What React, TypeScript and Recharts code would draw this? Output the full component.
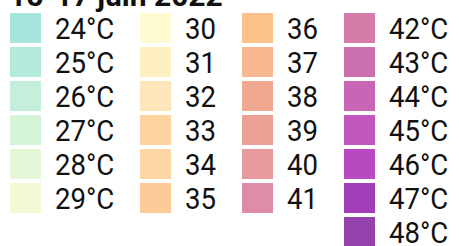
import { ScatterChart, Scatter, XAxis, YAxis } from "recharts";

const title = "15-17 juin 2022";

// legend columns, top to bottom
const col1Labels = ["24°C", "25°C", "26°C", "27°C", "28°C", "29°C"];
const col1Colors = ["#a6e5dd", "#b3eadb", "#c3efdb", "#d4f4d8", "#e4f7d6", "#f2fad5"];
const col2Labels = ["30", "31", "32", "33", "34", "35"];
const col2Colors = ["#fffbd2", "#fff0c4", "#fee6ba", "#fdd3a0", "#fdd6a6", "#fdcb97"];
const col3Labels = ["36", "37", "38", "39", "40", "41"];
const col3Colors = ["#fdc18c", "#f8b691", "#f0a891", "#eba196", "#e69a9e", "#de8ca9"];
const col4Labels = ["42°C", "43°C", "44°C", "45°C", "46°C", "47°C", "48°C"];
const col4Colors = ["#d57ba9", "#cd70b0", "#c965b5", "#c157bd", "#b949c1", "#a13db6", "#9442ad"];

const columns = [
  { labels: col1Labels, colors: col1Colors },
  { labels: col2Labels, colors: col2Colors },
  { labels: col3Labels, colors: col3Colors },
  { labels: col4Labels, colors: col4Colors },
];

// column width grows with the longest label (slot + per-character)
const SLOT = 74;
const PER_CHAR = 14;

let start = 0;
const data = columns.flatMap((col) => {
  const x = start;
  const maxLen = Math.max(...col.labels.map((l) => l.length));
  start += SLOT + PER_CHAR * maxLen;
  return col.labels.map((label, row) => ({ x, row, label, color: col.colors[row] }));
});

const FONT = "Roboto, sans-serif";

// squeezed a bit horizontally to look like the condensed face of the original
const Swatch = (props: any) => {
  const { cx, cy, payload } = props;
  return (
    <g>
      <rect x={cx} y={cy - 15} width={31} height={30} fill={payload.color} />
      <text
        transform={`translate(${cx + 45},${cy + 11.5}) scale(0.92,1)`}
        fontSize={30}
        fontFamily={FONT}
        fill="#111"
      >
        {payload.label}
      </text>
    </g>
  );
};

export default function App() {
  return (
    <div style={{ position: "absolute", left: 0, top: 0, width: 459, height: 246, overflow: "hidden", background: "#fff" }}>
      <div
        style={{
          position: "absolute",
          left: 9,
          top: -19,
          fontFamily: FONT,
          fontWeight: 700,
          fontSize: 30,
          lineHeight: "29px",
          color: "#111",
          whiteSpace: "nowrap",
        }}
      >
        {title}
      </div>
      <ScatterChart width={459} height={246} margin={{ top: 0, right: 0, bottom: 0, left: 0 }}>
        <XAxis type="number" dataKey="x" domain={[-10, 449]} hide />
        <YAxis type="number" dataKey="row" domain={[-0.8235, 6.4118]} reversed hide />
        <Scatter data={data} shape={<Swatch />} isAnimationActive={false} />
      </ScatterChart>
    </div>
  );
}
